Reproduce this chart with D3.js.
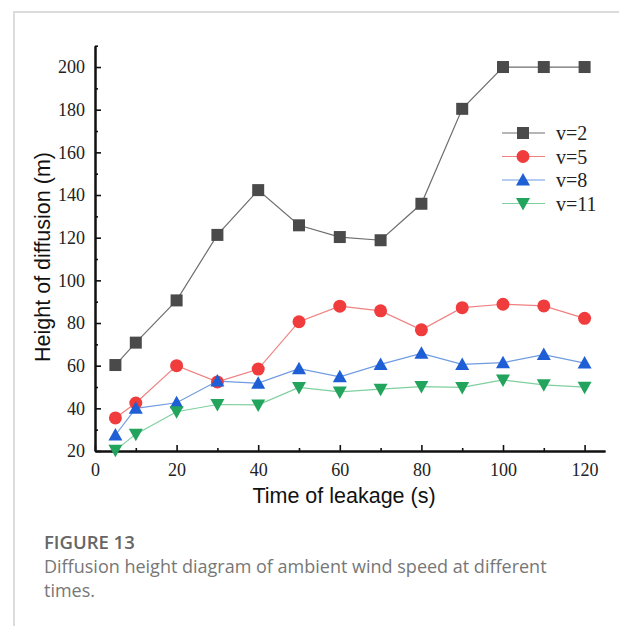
<!DOCTYPE html>
<meta charset="utf-8">
<script src="https://d3js.org/d3.v7.min.js"></script>
<style>
  body { margin: 0; background: #fff; }
</style>
<body>
<div id="my_dataviz"></div>
<script>

// data
var times = [5, 10, 20, 30, 40, 50, 60, 70, 80, 90, 100, 110, 120];
var v2  = [60.3, 70.8, 90.6, 121.3, 142.3, 125.8, 120.3, 118.8, 135.9, 180.4, 200, 200, 200];
var v5  = [35.5, 42.5, 60, 52.4, 58.4, 80.6, 87.9, 85.7, 76.8, 87.2, 88.8, 88, 82.2];
var v8  = [27.5, 40, 42.6, 52.8, 51.8, 58.6, 54.8, 60.6, 65.8, 60.6, 61.4, 65.2, 61.2];
var v11 = [20.3, 27.9, 38.4, 41.8, 41.6, 49.8, 47.7, 49, 50.2, 49.8, 53.3, 51, 49.9];
var seriesNames = ["v=2", "v=5", "v=8", "v=11"];
var xTicks = [0, 20, 40, 60, 80, 100, 120];
var yTicks = [20, 40, 60, 80, 100, 120, 140, 160, 180, 200];

var series = [
  {name: seriesNames[0], values: v2,  color: "#4a4a4a", line: "#6e6e6e", shape: "square"},
  {name: seriesNames[1], values: v5,  color: "#f03c3c", line: "#f08080", shape: "circle"},
  {name: seriesNames[2], values: v8,  color: "#1f5fd6", line: "#6f9be0", shape: "up"},
  {name: seriesNames[3], values: v11, color: "#22a45d", line: "#7fcf9f", shape: "down"}
];

var W = 619, H = 626;
var svg = d3.select("#my_dataviz").append("svg")
  .attr("width", W).attr("height", H);

// card border
svg.append("path")
  .attr("d", "M14," + H + "V12H" + W)
  .attr("fill", "none").attr("stroke", "#dcdcdc").attr("stroke-width", 2);

var x = d3.scaleLinear().domain([0, 125]).range([95, 605]);
var y = d3.scaleLinear().domain([20, 210]).range([451, 45.7]);

var g = svg.append("g");

// minor ticks
var xMinor = d3.range(10, 125, 20);
var yMinor = d3.range(30, 211, 20);

var xAxis = g.append("g").attr("transform", "translate(0," + y(20) + ")")
  .call(d3.axisBottom(x).tickValues(xTicks).tickSize(-6).tickPadding(12).tickSizeOuter(0));
g.append("g").attr("transform", "translate(0," + y(20) + ")")
  .call(d3.axisBottom(x).tickValues(xMinor).tickSize(-3).tickFormat("").tickSizeOuter(0));

var yAxis = g.append("g").attr("transform", "translate(" + x(0) + ",0)")
  .call(d3.axisLeft(y).tickValues(yTicks).tickSize(-6).tickPadding(10).tickSizeOuter(0));
g.append("g").attr("transform", "translate(" + x(0) + ",0)")
  .call(d3.axisLeft(y).tickValues(yMinor).tickSize(-3).tickFormat("").tickSizeOuter(0));

g.selectAll(".domain").attr("stroke", "#111").attr("stroke-width", 2);
g.selectAll(".tick line").attr("stroke", "#111").attr("stroke-width", 1.6);
g.selectAll(".tick text")
  .style("font-family", "'Liberation Serif', serif")
  .style("font-size", "18px").attr("fill", "#222");
xAxis.selectAll(".tick text").attr("dy", "0.71em");

// axis titles
svg.append("text")
  .attr("x", 344).attr("y", 503)
  .attr("text-anchor", "middle")
  .style("font-family", "'Liberation Sans', Arial, sans-serif")
  .style("font-size", "21.5px").attr("fill", "#111")
  .text("Time of leakage (s)");

svg.append("text")
  .attr("transform", "translate(50,257) rotate(-90)")
  .attr("text-anchor", "middle")
  .style("font-family", "'Liberation Sans', Arial, sans-serif")
  .style("font-size", "21.5px").attr("fill", "#111")
  .text("Height of diffusion (m)");

// marker drawing
function marker(sel, shape, color) {
  if (shape == "square") {
    sel.append("rect").attr("x", -6).attr("y", -6).attr("width", 12).attr("height", 12).attr("fill", color);
  } else if (shape == "circle") {
    sel.append("circle").attr("r", 6.5).attr("fill", color);
  } else if (shape == "up") {
    sel.append("path").attr("d", "M0,-7L7,5.5L-7,5.5Z").attr("fill", color);
  } else {
    sel.append("path").attr("d", "M0,7L7,-5.5L-7,-5.5Z").attr("fill", color);
  }
}

var line = d3.line()
  .x(function(d, i) { return x(times[i]); })
  .y(function(d) { return y(d); });

series.forEach(function(s) {
  g.append("path")
    .attr("d", line(s.values))
    .attr("fill", "none")
    .attr("stroke", s.line)
    .attr("stroke-width", 1.2);
});
series.forEach(function(s) {
  s.values.forEach(function(v, i) {
    var m = g.append("g").attr("transform", "translate(" + x(times[i]) + "," + y(v) + ")");
    marker(m, s.shape, s.color);
  });
});

// legend
series.forEach(function(s, i) {
  var ly = 133 + i * 23.5;
  svg.append("line").attr("x1", 502).attr("x2", 545).attr("y1", ly).attr("y2", ly)
    .attr("stroke", s.line).attr("stroke-width", 1.2);
  var m = svg.append("g").attr("transform", "translate(523," + ly + ")");
  marker(m, s.shape, s.color);
  svg.append("text").attr("x", 556).attr("y", ly).attr("dy", "0.35em")
    .style("font-family", "'Liberation Serif', serif")
    .style("font-size", "20px").attr("fill", "#222")
    .text(s.name);
});

// caption
svg.append("text").attr("x", 44).attr("y", 549)
  .style("font-family", "'Open Sans', sans-serif")
  .style("font-size", "18.5px").style("font-weight", 600).attr("fill", "#666")
  .text("FIGURE 13");
svg.append("text").attr("x", 44).attr("y", 573)
  .style("font-family", "'Open Sans', sans-serif")
  .style("font-size", "18px").style("font-weight", 400).attr("fill", "#777")
  .text("Diffusion height diagram of ambient wind speed at different");
svg.append("text").attr("x", 44).attr("y", 597)
  .style("font-family", "'Open Sans', sans-serif")
  .style("font-size", "18px").style("font-weight", 400).attr("fill", "#777")
  .text("times.");

</script>
</body>
